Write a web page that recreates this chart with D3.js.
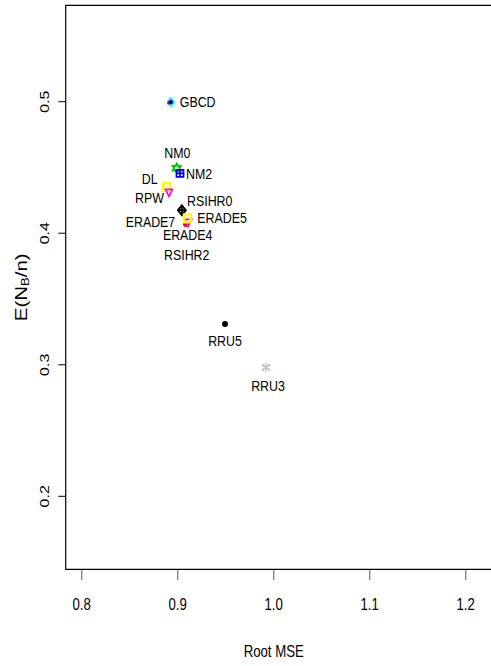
<!DOCTYPE html>
<html>
<head>
<meta charset="utf-8">
<script src="https://cdn.jsdelivr.net/npm/d3@7"></script>
<style>
  body { margin: 0; background: #fff; }
  svg { display: block; font-family: "Liberation Sans", Arial, Helvetica, sans-serif; }
</style>
</head>
<body>
<svg id="chart"></svg>
<script>
// methods and their (Root MSE, E(NB/n)) values
var methods  = ["GBCD", "NM0", "NM2", "DL", "RPW", "RSIHR0", "RSIHR2", "ERADE4", "ERADE7", "ERADE5", "RRU5", "RRU3"];
var rootMSE  = [0.8928, 0.8990, 0.9024, 0.8885, 0.8909, 0.9042, 0.9045, 0.9086, 0.9110, 0.9100, 0.9493, 0.9920];
var expNB    = [0.4998, 0.4494, 0.4455, 0.4354, 0.4303, 0.4176, 0.4172, 0.4070, 0.4075, 0.4113, 0.3309, 0.2980];

// extra markers drawn on top of GBCD
var gbcdExtraX = [0.8924, 0.8928, 0.8928];
var gbcdExtraY = [0.4990, 0.4998, 0.4998];

var xTicks = [0.8, 0.9, 1.0, 1.1, 1.2];
var yTicks = [0.2, 0.3, 0.4, 0.5];

// styles (R palette) and where each label sits around its point
var markStyle = {
  GBCD:   {shape: "diamond",  col: "cyan"},
  NM0:    {shape: "star",     col: "#00CD00"},
  NM2:    {shape: "sqplus",   col: "blue"},
  DL:     {shape: "square",   col: "yellow"},
  RPW:    {shape: "tridown",  col: "magenta"},
  RSIHR0: {shape: "diaplus",  col: "black"},
  RSIHR2: {shape: "diaplus",  col: "black"},
  ERADE4: {shape: "circle",   col: "red"},
  ERADE7: {shape: "tridown",  col: "magenta"},
  ERADE5: {shape: "square",   col: "yellow"},
  RRU5:   {shape: "circle",   col: "black"},
  RRU3:   {shape: "asterisk", col: "#BEBEBE"}
};
var labelPos = {
  GBCD:   [9, 0, "start"],
  NM0:    [0.6, -15.6, "middle"],
  NM2:    [6, 0.6, "start"],
  DL:     [-9, -8, "end"],
  RPW:    [-5, 3.7, "end"],
  RSIHR0: [28, -9.5, "middle"],
  RSIHR2: [4.7, 43.4, "middle"],
  ERADE4: [1.7, 10, "middle"],
  ERADE7: [-13, -1.7, "end"],
  ERADE5: [10, -1, "start"],
  RRU5:   [0, 16, "middle"],
  RRU3:   [2, 17.7, "middle"]
};

var width = 491, height = 666;
var sx = 0.8; // glyphs in the picture are squeezed horizontally

var svg = d3.select("#chart").attr("width", width).attr("height", height);

var plotLeft = 65.7, plotTop = 5.3, plotBottom = 569.3, plotRight = 501.7;

var x = d3.scaleLinear().domain([0.8, 1.2]).range([81.7, 465.7]);
var y = d3.scaleLinear().domain([0.2, 0.5]).range([496.3, 101.7]);

// box
svg.append("path")
    .attr("d", "M" + plotRight + "," + plotTop + "H" + plotLeft + "V" + plotBottom + "H" + plotRight)
    .attr("fill", "none")
    .attr("stroke", "#000")
    .attr("stroke-width", 1.2);

// x axis
var xa = svg.append("g");
xa.selectAll("line").data(xTicks).enter().append("line")
    .attr("x1", function(d) { return x(d); })
    .attr("x2", function(d) { return x(d); })
    .attr("y1", plotBottom + 1)
    .attr("y2", 580)
    .attr("stroke", "#777")
    .attr("stroke-width", 1.3);
xa.selectAll("text").data(xTicks).enter().append("text")
    .attr("transform", function(d) { return "translate(" + x(d) + ",610) scale(" + sx + ",1)"; })
    .attr("text-anchor", "middle")
    .attr("font-size", 16.5)
    .text(function(d) { return d3.format(".1f")(d); });

svg.append("text")
    .attr("transform", "translate(" + x(1.0) + ",657) scale(" + sx + ",1)")
    .attr("text-anchor", "middle")
    .attr("font-size", 16.5)
    .text("Root MSE");

// y axis
var ya = svg.append("g");
ya.selectAll("line").data(yTicks).enter().append("line")
    .attr("x1", 58.3)
    .attr("x2", plotLeft)
    .attr("y1", function(d) { return y(d); })
    .attr("y2", function(d) { return y(d); })
    .attr("stroke", "#000")
    .attr("stroke-width", 1);
ya.selectAll("text").data(yTicks).enter().append("text")
    .attr("transform", function(d) { return "translate(48.5," + y(d) + ") scale(" + sx + ",1) rotate(-90)"; })
    .attr("text-anchor", "middle")
    .attr("font-size", 16)
    .text(function(d) { return d3.format(".1f")(d); });

var yt = svg.append("text")
    .attr("transform", "translate(26.5," + ((plotTop + plotBottom) / 2) + ") scale(" + sx + ",1) rotate(-90)")
    .attr("text-anchor", "middle")
    .attr("font-size", 20.5);
yt.append("tspan").text("E(N");
yt.append("tspan").attr("font-size", 13).attr("dy", 3).text("B");
yt.append("tspan").attr("dy", -3).text("/n)");

// marker drawing
function drawMarker(g, s) {
  var c = s.col;
  if (s.shape === "diamond") {
    g.append("path").attr("d", "M0,-5L4,0L0,5L-4,0Z").attr("fill", c).attr("stroke", c);
  } else if (s.shape === "circle") {
    g.append("circle").attr("r", 3).attr("fill", c);
  } else if (s.shape === "star") {
    g.append("path").attr("d", "M0,-5L4.3,2.5L-4.3,2.5Z M0,5L4.3,-2.5L-4.3,-2.5Z")
      .attr("fill", "none").attr("stroke", c).attr("stroke-width", 1.6);
  } else if (s.shape === "sqplus") {
    g.append("path").attr("d", "M-3.5,-3.5H3.5V3.5H-3.5Z M0,-3.5V3.5 M-3.5,0H3.5")
      .attr("fill", "none").attr("stroke", c).attr("stroke-width", 1.8);
  } else if (s.shape === "square") {
    g.append("rect").attr("x", -3.3).attr("y", -3.8).attr("width", 6.6).attr("height", 7.6)
      .attr("fill", "none").attr("stroke", c).attr("stroke-width", 2.6);
  } else if (s.shape === "tridown") {
    g.append("path").attr("d", "M-3.5,-4L3.5,-4L0,3Z M-3.5,-4L0,3L3.5,-4")
      .attr("fill", "none").attr("stroke", c).attr("stroke-width", 1.6);
  } else if (s.shape === "diaplus") {
    g.append("path").attr("d", "M0,-5L4,0L0,5L-4,0Z M0,-5V5 M-4,0H4")
      .attr("fill", "none").attr("stroke", c).attr("stroke-width", 1.5);
  } else if (s.shape === "asterisk") {
    g.append("path").attr("d", "M0,-5V5 M-4.3,-2.5L4.3,2.5 M-4.3,2.5L4.3,-2.5 M-3.5,-3.5L3.5,3.5 M-3.5,3.5L3.5,-3.5")
      .attr("fill", "none").attr("stroke", c).attr("stroke-width", 1.2);
  }
}

var pts = methods.map(function(m, i) { return {name: m, rmse: rootMSE[i], enb: expNB[i]}; });

// drawing order follows the picture (later marks sit on top)
var drawOrder = ["GBCD", "NM0", "NM2", "DL", "RPW", "RSIHR2", "RSIHR0", "ERADE4", "ERADE7", "ERADE5", "RRU5", "RRU3"];

var pg = svg.append("g");
drawOrder.forEach(function(name) {
  var d = pts.filter(function(p) { return p.name === name; })[0];
  var g = pg.append("g").attr("transform", "translate(" + x(d.rmse) + "," + y(d.enb) + ")");
  drawMarker(g, markStyle[name]);
});

// overlays on GBCD: red, blue, black
var extraCols = ["red", "blue", "black"];
var extraR = [1.8, 2.2, 1];
gbcdExtraX.forEach(function(v, i) {
  pg.append("circle")
    .attr("cx", x(v) + (i === 0 ? -1.5 : 0))
    .attr("cy", y(gbcdExtraY[i]))
    .attr("r", extraR[i])
    .attr("fill", extraCols[i]);
});

// labels
svg.append("g").selectAll("text").data(pts).enter().append("text")
    .attr("transform", function(d) {
      var lp = labelPos[d.name];
      return "translate(" + (x(d.rmse) + lp[0]) + "," + (y(d.enb) + lp[1] + 5.5) + ") scale(" + sx + ",1)";
    })
    .attr("text-anchor", function(d) { return labelPos[d.name][2]; })
    .attr("font-size", 15.5)
    .text(function(d) { return d.name; });
</script>
</body>
</html>
